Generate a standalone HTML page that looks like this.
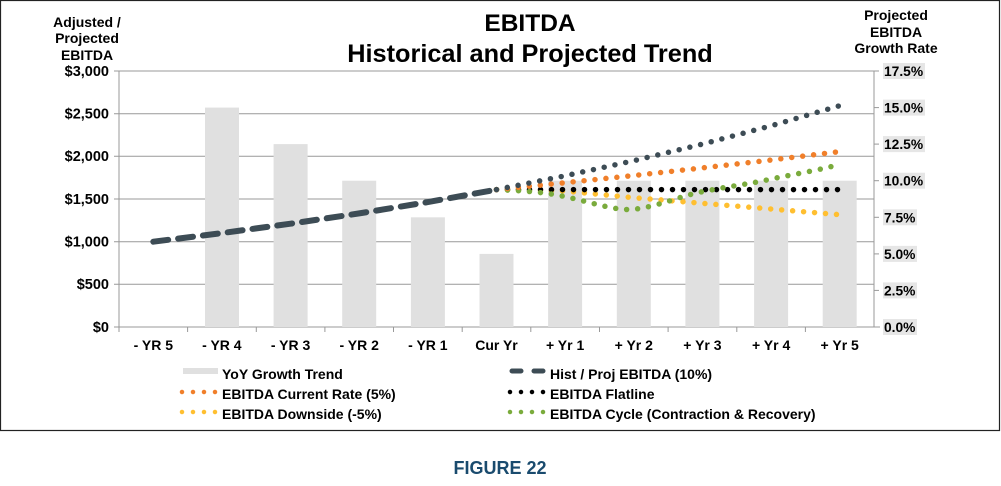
<!DOCTYPE html>
<html><head><meta charset="utf-8"><style>
html,body{margin:0;padding:0;background:#fff;}
svg{display:block;font-family:"Liberation Sans",Arial,sans-serif;font-weight:bold;}
</style></head><body>
<svg width="1001" height="486" viewBox="0 0 1001 486" xmlns="http://www.w3.org/2000/svg">
<rect x="0.5" y="0.5" width="999" height="430" fill="#fff" stroke="#222" stroke-width="1.2"/>
<text x="530" y="31" font-size="24.5" text-anchor="middle" fill="#000">EBITDA</text>
<text x="530" y="62" font-size="25.3" text-anchor="middle" fill="#000">Historical and Projected Trend</text>
<g font-size="14" text-anchor="middle" fill="#000">
<text x="87" y="27">Adjusted /</text><text x="87" y="43">Projected</text><text x="87" y="60">EBITDA</text>
<text x="896" y="20">Projected</text><text x="896" y="37">EBITDA</text><text x="896" y="53">Growth Rate</text>
</g>
<g stroke="#999" stroke-width="1">
<line x1="114" y1="71" x2="874" y2="71"/><line x1="114" y1="113.7" x2="874" y2="113.7"/>
<line x1="114" y1="156.3" x2="874" y2="156.3"/><line x1="114" y1="199" x2="874" y2="199"/>
<line x1="114" y1="241.7" x2="874" y2="241.7"/><line x1="114" y1="284.3" x2="874" y2="284.3"/>
<line x1="114" y1="327" x2="880" y2="327"/>
<line x1="119" y1="71" x2="119" y2="327"/><line x1="874" y1="71" x2="874" y2="327"/>
</g>
<g stroke="#999" stroke-width="1">
<line x1="119" y1="327" x2="119" y2="332"/><line x1="187.6" y1="327" x2="187.6" y2="332"/><line x1="256.3" y1="327" x2="256.3" y2="332"/><line x1="324.9" y1="327" x2="324.9" y2="332"/><line x1="393.5" y1="327" x2="393.5" y2="332"/><line x1="462.2" y1="327" x2="462.2" y2="332"/><line x1="530.8" y1="327" x2="530.8" y2="332"/><line x1="599.5" y1="327" x2="599.5" y2="332"/><line x1="668.1" y1="327" x2="668.1" y2="332"/><line x1="736.8" y1="327" x2="736.8" y2="332"/><line x1="805.4" y1="327" x2="805.4" y2="332"/>
<line x1="874" y1="71" x2="879" y2="71"/><line x1="874" y1="107.6" x2="879" y2="107.6"/><line x1="874" y1="144.1" x2="879" y2="144.1"/><line x1="874" y1="180.7" x2="879" y2="180.7"/><line x1="874" y1="217.3" x2="879" y2="217.3"/><line x1="874" y1="253.9" x2="879" y2="253.9"/><line x1="874" y1="290.4" x2="879" y2="290.4"/>
</g>
<g fill="#e0e0e0">
<rect x="205" y="107.6" width="34" height="219.4"/>
<rect x="273.6" y="144.1" width="34" height="182.9"/>
<rect x="342.2" y="180.7" width="34" height="146.3"/>
<rect x="410.9" y="217.3" width="34" height="109.7"/>
<rect x="479.5" y="253.9" width="34" height="73.1"/>
<rect x="548.1" y="180.7" width="34" height="146.3"/>
<rect x="616.8" y="180.7" width="34" height="146.3"/>
<rect x="685.4" y="180.7" width="34" height="146.3"/>
<rect x="754.1" y="180.7" width="34" height="146.3"/>
<rect x="822.7" y="180.7" width="34" height="146.3"/>
</g>
<g font-size="14.5" text-anchor="end" fill="#000">
<text x="109" y="76">$3,000</text><text x="109" y="118.5">$2,500</text><text x="109" y="161">$2,000</text><text x="109" y="204">$1,500</text><text x="109" y="246.5">$1,000</text><text x="109" y="289">$500</text><text x="109" y="332">$0</text>
</g>
<g fill="#e6e6e6">
<rect x="883" y="63" width="42" height="16"/><rect x="883" y="99.6" width="42" height="16"/><rect x="883" y="136.1" width="42" height="16"/><rect x="883" y="172.7" width="42" height="16"/><rect x="883" y="209.3" width="34" height="16"/><rect x="883" y="245.9" width="34" height="16"/><rect x="883" y="282.4" width="34" height="16"/><rect x="883" y="319" width="34" height="16"/>
</g>
<g font-size="13.8" fill="#000">
<text x="884" y="76">17.5%</text><text x="884" y="112.6">15.0%</text><text x="884" y="149.1">12.5%</text><text x="884" y="185.7">10.0%</text><text x="884" y="222.3">7.5%</text><text x="884" y="258.9">5.0%</text><text x="884" y="295.4">2.5%</text><text x="884" y="332">0.0%</text>
</g>
<g font-size="14" text-anchor="middle" fill="#000">
<text x="153.3" y="350">- YR 5</text><text x="221.9" y="350">- YR 4</text><text x="290.6" y="350">- YR 3</text><text x="359.2" y="350">- YR 2</text><text x="427.9" y="350">- YR 1</text><text x="496.5" y="350">Cur Yr</text><text x="565.1" y="350">+ Yr 1</text><text x="633.8" y="350">+ Yr 2</text><text x="702.4" y="350">+ Yr 3</text><text x="771.1" y="350">+ Yr 4</text><text x="839.7" y="350">+ Yr 5</text>
</g>
<g fill="none" stroke-linecap="round" stroke-linejoin="round">
<polyline stroke="#3d4c55" stroke-width="6" stroke-dasharray="15 10" points="153.3,241.7 221.9,233.1 290.6,223.7 359.2,213.4 427.9,202.1 496.5,189.6"/>
<polyline stroke="#ffbf30" stroke-width="5.5" stroke-dasharray="0 11" points="496.5,189.6 565.1,191 633.8,197.7 702.4,203.3 771.1,209 839.7,214.7"/>
<polyline stroke="#000" stroke-width="5.5" stroke-dasharray="0 11" points="496.5,189.6 839.7,189.6"/>
<path stroke="#7aab3c" stroke-width="5.5" stroke-dasharray="0 11" d="M496.5,189.6 C530,191 550,193 565.1,196.7 C595,203 615,211 633.8,209.3 C660,206 680,196 702.4,191.7 C730,186 750,184 771.1,179 C800,173 820,170 839.7,164.3"/>
<polyline stroke="#f07f2a" stroke-width="5.5" stroke-dasharray="0 11" points="496.5,189.6 565.1,182.7 633.8,175.5 702.4,167.9 771.1,160 839.7,151.6"/>
<polyline stroke="#3d4c55" stroke-width="5.5" stroke-dasharray="0 11" points="496.5,189.6 565.1,175.8 633.8,160.7 702.4,144.1 771.1,125.8 839.7,105.7"/>
</g>
<rect x="183" y="368" width="35" height="6" fill="#e0e0e0"/>
<g stroke-linecap="round" stroke-width="4.5" stroke-dasharray="0 11" fill="none">
<line x1="182" y1="392" x2="216" y2="392" stroke="#f07f2a"/>
<line x1="182" y1="412" x2="216" y2="412" stroke="#ffbf30"/>
<line x1="510" y1="392" x2="544" y2="392" stroke="#000"/>
<line x1="510" y1="412" x2="544" y2="412" stroke="#7aab3c"/>
</g>
<line x1="512" y1="371" x2="545" y2="371" stroke="#3d4c55" stroke-width="5" stroke-linecap="round" stroke-dasharray="9 13"/>
<g font-size="14" fill="#000">
<text x="222" y="379">YoY Growth Trend</text>
<text x="222" y="399">EBITDA Current Rate (5%)</text>
<text x="222" y="419">EBITDA Downside (-5%)</text>
<text x="550" y="379">Hist / Proj EBITDA (10%)</text>
<text x="550" y="399">EBITDA Flatline</text>
<text x="550" y="419">EBITDA Cycle (Contraction &amp; Recovery)</text>
</g>
<text x="500" y="474" font-size="18" text-anchor="middle" fill="#1a4b6e">FIGURE 22</text>
</svg>
</body></html>
